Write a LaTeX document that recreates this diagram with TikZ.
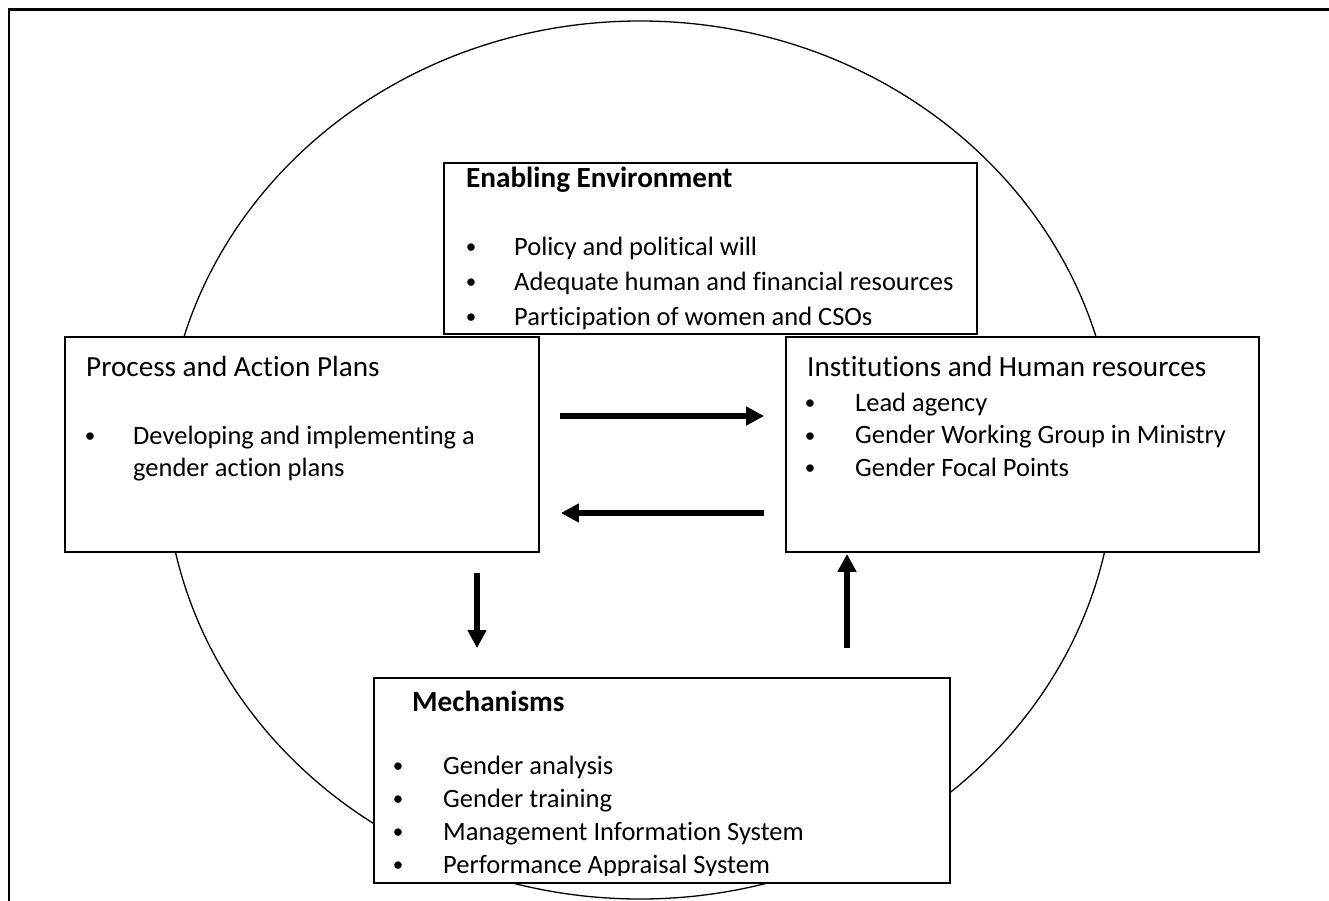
\documentclass[tikz,border=0pt]{standalone}
\usepackage{fontspec}
\setmainfont{Carlito}[Ligatures={NoCommon,NoContextual}]
\usetikzlibrary{arrows.meta,shapes.geometric}
\tikzset{
  box/.style={draw, fill=white, line width=1.8pt, inner sep=0pt},
  txt/.style={inner sep=0pt, anchor=base west, font=\fontsize{26.5}{30}\selectfont},
  blt/.style={inner sep=0pt, anchor=center, font=\fontsize{21}{22}\selectfont},
  ttl/.style={inner sep=0pt, anchor=base west, font=\fontsize{29.2}{33}\selectfont},
  bttl/.style={inner sep=0pt, anchor=base west, font=\fontsize{29.2}{33}\selectfont\bfseries},
  arr/.style={line width=6pt, -{Triangle[length=18pt,width=18pt]}}
}
\begin{document}
\begin{tikzpicture}[x=1pt,y=-1pt]
\useasboundingbox (0,0) rectangle (1329,901);
% outer frame (only top and left visible)
\coordinate (fr-tr) at (1329,9.5);
\coordinate (fr-tl) at (8.7,9.5);
\coordinate (fr-bl) at (8.7,901);
\draw[line width=2.4pt] (fr-tr) -- (fr-tl) -- (fr-bl);
% ring
\node[draw, ellipse, line width=1.3pt, minimum width=950pt, minimum height=878pt, inner sep=0pt] (ring) at (640,460) {};
% boxes
\node[box, minimum width=533pt, minimum height=171pt] (ee) at (710.5,248.5) {};
\node[box, minimum width=474pt, minimum height=215pt] (pap) at (302,444.5) {};
\node[box, minimum width=473pt, minimum height=215pt] (inst) at (1022.5,444.5) {};
\node[box, minimum width=576pt, minimum height=205pt] (mech) at (662,780.5) {};
% Enabling Environment
\node[bttl] (ee-t) at (466,188) {Enabling Environment};
\node[blt] (ee-b1) at (471,249) {•};
\node[txt] (ee-i1) at (514,255) {Policy and political will};
\node[blt] (ee-b2) at (471,284) {•};
\node[txt] (ee-i2) at (514,290) {Adequate human and financial resources};
\node[blt] (ee-b3) at (471,319) {•};
\node[txt] (ee-i3) at (514,325) {Participation of women and CSOs};
% Process and Action Plans
\node[ttl] (pap-t) at (86,376) {Process and Action Plans};
\node[blt] (pap-b1) at (90,438) {•};
\node[txt] (pap-i1) at (133,444) {Developing and implementing a};
\node[txt] (pap-i2) at (133,476) {gender action plans};
% Institutions and Human resources
\node[ttl] (inst-t) at (807,376) {Institutions and Human resources};
\node[blt] (inst-b1) at (810,405) {•};
\node[txt] (inst-i1) at (855,411) {Lead agency};
\node[blt] (inst-b2) at (810,437.5) {•};
\node[txt] (inst-i2) at (855,443.5) {Gender Working Group in Ministry};
\node[blt] (inst-b3) at (810,470) {•};
\node[txt] (inst-i3) at (855,476) {Gender Focal Points};
% Mechanisms
\node[bttl] (mech-t) at (412,711) {Mechanisms};
\node[blt] (mech-b1) at (398,768) {•};
\node[txt] (mech-i1) at (443,774) {Gender analysis};
\node[blt] (mech-b2) at (398,801) {•};
\node[txt] (mech-i2) at (443,807) {Gender training};
\node[blt] (mech-b3) at (398,834) {•};
\node[txt] (mech-i3) at (443,840) {Management Information System};
\begin{scope}
\clip (374,800) rectangle (950,875);
\node[blt] (mech-b4) at (398,867) {•};
\node[txt] (mech-i4) at (443,873) {Performance Appraisal System};
\end{scope}
% arrows
\coordinate (yr) at (0,416);
\coordinate (yl) at (0,513);
\coordinate (xd) at (477,0);
\coordinate (xu) at (847,0);
\draw[arr, shorten <=20pt, shorten >=21pt] (pap.east |- yr) -- (inst.west |- yr);
\draw[arr, shorten <=21pt, shorten >=21pt] (inst.west |- yl) -- (pap.east |- yl);
\draw[arr, shorten <=20pt, shorten >=29pt] (pap.south -| xd) -- (mech.north -| xd);
\draw[arr, shorten <=29pt, shorten >=1pt] (mech.north -| xu) -- (inst.south -| xu);
\end{tikzpicture}
\end{document}
